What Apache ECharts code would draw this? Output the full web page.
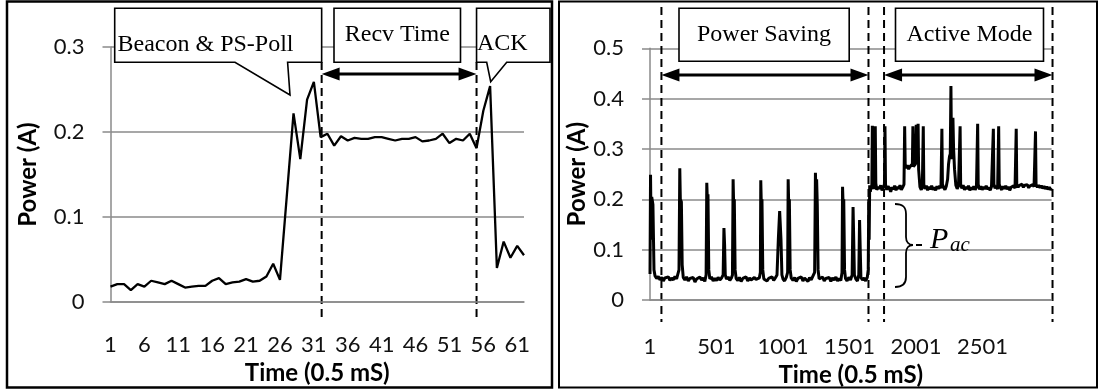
<!DOCTYPE html>
<html>
<head>
<meta charset="utf-8">
<script src="https://cdn.jsdelivr.net/npm/echarts/dist/echarts.min.js"></script>
<style>
  html, body { margin: 0; padding: 0; background: #fff; }
  #chart { width: 1100px; height: 392px; }
</style>
</head>
<body>
<div id="chart"></div>
<script>
//--------------------- Data ---------------------------//
// Left panel: one beacon / receive / ack cycle, 62 samples
const leftPower = [
  0.018, 0.021, 0.021, 0.014, 0.021, 0.018, 0.025, 0.023, 0.021, 0.025,
  0.021, 0.017, 0.018, 0.019, 0.019, 0.025, 0.028, 0.021, 0.023, 0.024,
  0.027, 0.024, 0.025, 0.030, 0.045, 0.026, 0.124, 0.222, 0.168, 0.238,
  0.259, 0.194, 0.198, 0.184, 0.195, 0.190, 0.193, 0.192, 0.192, 0.194,
  0.194, 0.192, 0.190, 0.192, 0.192, 0.194, 0.189, 0.190, 0.192, 0.198,
  0.187, 0.192, 0.190, 0.198, 0.181, 0.225, 0.254, 0.040, 0.071, 0.052,
  0.066, 0.055
];
const leftTime = leftPower.map((v, i) => String(i + 1));
const leftMarkIdx = [31.15, 54]; // dashed lines (category index)

// Right panel: power saving then active mode, sample index / current
const rightTime = [
  0, 4, 9, 13, 22, 30, 38, 50, 62, 75, 88, 100, 112, 125, 138, 150, 162, 175, 188, 200,
  212, 218, 224, 228, 236, 242, 250, 262, 275, 288, 300, 312, 325, 338, 350, 362, 375, 388, 400, 412,
  422, 427, 431, 436, 442, 450, 462, 475, 488, 500, 512, 525, 538, 550, 556, 561, 566, 575, 588, 600,
  612, 620, 625, 629, 634, 640, 648, 660, 672, 685, 698, 710, 722, 735, 748, 760, 772, 785, 798, 810,
  822, 830, 833, 837, 842, 848, 856, 868, 880, 892, 905, 918, 930, 942, 955, 965, 975, 985, 992, 1000,
  1012, 1025, 1035, 1039, 1043, 1048, 1054, 1062, 1075, 1088, 1100, 1112, 1125, 1138, 1150, 1162, 1175, 1188, 1200, 1212,
  1225, 1238, 1244, 1248, 1253, 1258, 1264, 1272, 1285, 1298, 1310, 1322, 1335, 1348, 1360, 1372, 1385, 1398, 1410, 1422,
  1435, 1444, 1448, 1452, 1457, 1463, 1470, 1482, 1495, 1508, 1520, 1527, 1532, 1537, 1548, 1560, 1570, 1576, 1581, 1586,
  1598, 1610, 1622, 1634, 1641, 1645, 1648, 1652, 1657, 1662, 1668, 1672, 1676, 1682, 1690, 1694, 1698, 1705, 1715, 1725,
  1735, 1745, 1755, 1763, 1767, 1771, 1780, 1790, 1800, 1810, 1820, 1830, 1840, 1850, 1860, 1870, 1880, 1890, 1900, 1910,
  1915, 1919, 1925, 1935, 1945, 1955, 1965, 1973, 1977, 1981, 1988, 1996, 2002, 2006, 2012, 2016, 2020, 2030, 2040, 2048,
  2055, 2059, 2068, 2078, 2088, 2098, 2108, 2118, 2128, 2138, 2148, 2158, 2168, 2178, 2188, 2195, 2199, 2208, 2218, 2228,
  2238, 2245, 2252, 2258, 2263, 2267, 2272, 2278, 2283, 2290, 2300, 2310, 2320, 2332, 2336, 2345, 2355, 2365, 2375, 2385,
  2395, 2405, 2415, 2425, 2435, 2445, 2455, 2464, 2468, 2478, 2488, 2498, 2508, 2518, 2528, 2538, 2548, 2558, 2568, 2582,
  2586, 2595, 2605, 2614, 2622, 2626, 2635, 2645, 2655, 2665, 2675, 2685, 2695, 2705, 2715, 2725, 2735, 2745, 2754, 2758,
  2768, 2778, 2788, 2798, 2808, 2818, 2828, 2838, 2848, 2858, 2868, 2878, 2888, 2899, 2903, 2913, 2923, 2933, 2943, 2953,
  2963, 2973, 2983, 2993, 3003, 3013, 3022
];
const rightPower = [
  0.052, 0.249, 0.120, 0.205, 0.190, 0.060, 0.048, 0.043, 0.047, 0.040, 0.045, 0.038, 0.044, 0.041, 0.046, 0.039, 0.044, 0.040, 0.047, 0.042,
  0.045, 0.060, 0.262, 0.200, 0.195, 0.070, 0.045, 0.040, 0.046, 0.038, 0.043, 0.040, 0.045, 0.036, 0.042, 0.039, 0.046, 0.040, 0.044, 0.037,
  0.050, 0.233, 0.200, 0.210, 0.060, 0.042, 0.046, 0.038, 0.043, 0.039, 0.045, 0.040, 0.044, 0.050, 0.143, 0.110, 0.050, 0.042, 0.046, 0.039,
  0.044, 0.050, 0.240, 0.190, 0.200, 0.060, 0.043, 0.039, 0.045, 0.037, 0.043, 0.040, 0.046, 0.038, 0.044, 0.040, 0.037, 0.045, 0.041, 0.038,
  0.044, 0.055, 0.238, 0.190, 0.200, 0.060, 0.042, 0.045, 0.038, 0.043, 0.040, 0.046, 0.039, 0.044, 0.050, 0.120, 0.177, 0.120, 0.050, 0.042,
  0.038, 0.045, 0.055, 0.240, 0.190, 0.200, 0.060, 0.044, 0.039, 0.045, 0.037, 0.043, 0.040, 0.046, 0.038, 0.044, 0.041, 0.037, 0.045, 0.040,
  0.043, 0.055, 0.253, 0.210, 0.240, 0.190, 0.060, 0.042, 0.039, 0.046, 0.038, 0.043, 0.040, 0.045, 0.037, 0.044, 0.040, 0.046, 0.038, 0.043,
  0.039, 0.055, 0.225, 0.190, 0.200, 0.060, 0.043, 0.038, 0.045, 0.040, 0.050, 0.185, 0.120, 0.050, 0.042, 0.038, 0.050, 0.159, 0.100, 0.045,
  0.040, 0.044, 0.038, 0.045, 0.060, 0.200, 0.120, 0.228, 0.215, 0.226, 0.220, 0.346, 0.230, 0.221, 0.228, 0.345, 0.232, 0.219, 0.225, 0.221,
  0.228, 0.218, 0.224, 0.230, 0.345, 0.230, 0.219, 0.226, 0.222, 0.215, 0.224, 0.220, 0.227, 0.218, 0.225, 0.221, 0.228, 0.219, 0.224, 0.230,
  0.345, 0.270, 0.262, 0.268, 0.260, 0.265, 0.262, 0.270, 0.345, 0.265, 0.262, 0.270, 0.348, 0.270, 0.280, 0.350, 0.260, 0.225, 0.219, 0.226,
  0.345, 0.230, 0.221, 0.227, 0.218, 0.225, 0.220, 0.227, 0.219, 0.224, 0.218, 0.226, 0.221, 0.227, 0.222, 0.340, 0.230, 0.224, 0.219, 0.226,
  0.240, 0.270, 0.285, 0.290, 0.425, 0.300, 0.280, 0.362, 0.300, 0.260, 0.228, 0.221, 0.227, 0.345, 0.230, 0.222, 0.228, 0.219, 0.225, 0.221,
  0.227, 0.218, 0.224, 0.220, 0.226, 0.219, 0.225, 0.350, 0.230, 0.220, 0.226, 0.219, 0.225, 0.221, 0.227, 0.220, 0.224, 0.218, 0.225, 0.340,
  0.230, 0.222, 0.227, 0.220, 0.345, 0.230, 0.223, 0.219, 0.226, 0.221, 0.227, 0.220, 0.225, 0.218, 0.224, 0.221, 0.227, 0.222, 0.340, 0.230,
  0.224, 0.228, 0.226, 0.230, 0.224, 0.228, 0.225, 0.229, 0.223, 0.227, 0.224, 0.229, 0.225, 0.335, 0.230, 0.224, 0.228, 0.223, 0.227, 0.222,
  0.226, 0.221, 0.225, 0.220, 0.224, 0.219, 0.222
];
const rightMarkTime = [86, 1643, 1760, 3027]; // dashed lines (sample index)

//--------------------- Styles ---------------------------//
const gridGray = '#8a8a8a';
const tickFont = { fontFamily: 'Lato', fontSize: 22, color: '#111' };
const nameFont = { fontFamily: 'Lato', fontSize: 24, fontWeight: 'bold', color: '#000' };
const boxFont = '24px "Liberation Serif"';

function valueYAxis(gridIndex, max, gap) {
  return {
    type: 'value', gridIndex: gridIndex, min: 0, max: max, interval: 0.1,
    name: 'Power (A)', nameLocation: 'middle', nameGap: gap, nameTextStyle: nameFont,
    axisLine: { show: true, lineStyle: { color: gridGray, width: 1.5 } },
    axisTick: { show: true, length: 8, lineStyle: { color: gridGray, width: 1.5 } },
    axisLabel: Object.assign({ margin: 26 }, tickFont),
    splitLine: { lineStyle: { color: gridGray, width: 1.5 } }
  };
}

const option = {
  animation: false,
  grid: [
    { left: 110.5, top: 47, width: 413.5, height: 255 },
    { left: 650, top: 48.3, width: 401.6, height: 259.2 }
  ],
  xAxis: [
    {
      type: 'category', gridIndex: 0, data: leftTime, boundaryGap: false,
      name: 'Time (0.5 mS)', nameLocation: 'middle', nameGap: 54, nameTextStyle: nameFont,
      axisLine: { lineStyle: { color: gridGray, width: 1.5 } },
      axisTick: { show: false },
      axisLabel: Object.assign({ interval: 4, margin: 32 }, tickFont),
      splitLine: { show: false }
    },
    {
      type: 'value', gridIndex: 1, min: 0, max: 3020, interval: 500,
      name: 'Time (0.5 mS)', nameLocation: 'middle', nameGap: 46, nameTextStyle: nameFont,
      axisLine: { lineStyle: { color: gridGray, width: 1.5 } },
      axisTick: { show: false },
      axisLabel: Object.assign({
        margin: 36,
        formatter: v => (v <= 2500 ? String(v + 1) : '')
      }, tickFont),
      splitLine: { show: false }
    }
  ],
  yAxis: [valueYAxis(0, 0.3, 70), valueYAxis(1, 0.5, 55)],
  series: [
    {
      type: 'line', xAxisIndex: 0, yAxisIndex: 0, data: leftPower,
      showSymbol: false, lineStyle: { color: '#000', width: 2.3 }
    },
    {
      type: 'line', xAxisIndex: 1, yAxisIndex: 1,
      data: rightTime.map((t, i) => [t, rightPower[i]]),
      showSymbol: false, lineStyle: { color: '#000', width: 3 }
    }
  ]
};

const chart = echarts.init(document.getElementById('chart'));
chart.setOption(option);

//--------------------- Annotations ---------------------------//
// pixel x of a (possibly fractional) category index on the left axis
function catPx(idx) {
  const i0 = Math.floor(idx);
  const a = chart.convertToPixel({ xAxisIndex: 0 }, i0);
  const b = chart.convertToPixel({ xAxisIndex: 0 }, i0 + 1);
  return a + (b - a) * (idx - i0);
}

function dashed(x, y1, y2) {
  return { type: 'line', shape: { x1: x, y1: y1, x2: x, y2: y2 },
    style: { stroke: '#000', lineWidth: 2, lineDash: [8, 5] } };
}

function doubleArrow(x1, x2, y) {
  const h = 18, w = 6.5;
  return [
    { type: 'line', shape: { x1: x1 + h - 2, y1: y, x2: x2 - h + 2, y2: y },
      style: { stroke: '#000', lineWidth: 2.8 } },
    { type: 'polygon', shape: { points: [[x1, y], [x1 + h, y - w], [x1 + h, y + w]] },
      style: { fill: '#000' } },
    { type: 'polygon', shape: { points: [[x2, y], [x2 - h, y - w], [x2 - h, y + w]] },
      style: { fill: '#000' } }
  ];
}

function shape(points) {
  return { type: 'polygon', shape: { points: points },
    style: { fill: '#fff', stroke: '#000', lineWidth: 1.6 } };
}

function label(text, x, y, align) {
  return { type: 'text', x: x, y: y,
    style: { text: text, font: boxFont, fill: '#000', align: align, verticalAlign: 'middle' } };
}

function curve(x1, y1, c1x, c1y, c2x, c2y, x2, y2) {
  return { type: 'bezierCurve',
    shape: { x1: x1, y1: y1, cpx1: c1x, cpy1: c1y, cpx2: c2x, cpy2: c2y, x2: x2, y2: y2 },
    style: { fill: 'none', stroke: '#000', lineWidth: 1.8 } };
}

function seg(x1, y1, x2, y2, w) {
  return { type: 'line', shape: { x1: x1, y1: y1, x2: x2, y2: y2 },
    style: { stroke: '#000', lineWidth: w } };
}

const lx = leftMarkIdx.map(catPx);
const rx = rightMarkTime.map(t => chart.convertToPixel({ xAxisIndex: 1 }, t));

const elements = [
  // panel frames
  { type: 'rect', shape: { x: 7, y: 1.5, width: 545, height: 386 },
    style: { fill: 'none', stroke: '#000', lineWidth: 2.5 } },
  { type: 'rect', shape: { x: 559, y: 1.5, width: 538, height: 386 },
    style: { fill: 'none', stroke: '#000', lineWidth: 2 } },

  // left panel
  dashed(lx[0], 62, 322),
  dashed(lx[1], 62, 322),
  ...doubleArrow(lx[0], lx[1], 74),
  shape([[114.7, 8.3], [lx[0], 8.3], [lx[0], 62.3], [287.6, 62.3], [290, 95], [235, 62.3], [114.7, 62.3]]),
  label('Beacon & PS-Poll', 117.5, 44.7, 'left'),
  shape([[334, 8.3], [460.5, 8.3], [460.5, 62.3], [334, 62.3]]),
  label('Recv Time', 397.3, 34.3, 'center'),
  shape([[lx[1], 8.3], [550, 8.3], [550, 62.3], [506.7, 62.3], [490.7, 81.7], [486.7, 62.3], [lx[1], 62.3]]),
  label('ACK', 477, 43.3, 'left'),

  // right panel
  ...rx.map(x => dashed(x, 7, 322)),
  ...doubleArrow(rx[0], rx[1], 75),
  ...doubleArrow(rx[2], rx[3], 75),
  shape([[679, 8.3], [849.2, 8.3], [849.2, 61.3], [679, 61.3]]),
  label('Power Saving', 764, 34.7, 'center'),
  shape([[895.5, 8.3], [1043.5, 8.3], [1043.5, 61.3], [895.5, 61.3]]),
  label('Active Mode', 969.5, 34.7, 'center'),

  // P_ac brace
  curve(895, 204, 903, 204, 906, 207, 906, 214),
  seg(906, 214, 906, 237, 1.8),
  curve(906, 237, 906, 242, 909, 245, 913, 245),
  curve(913, 245, 909, 245, 906, 248, 906, 253),
  seg(906, 253, 906, 277, 1.8),
  curve(906, 277, 906, 283, 903, 287, 895, 287),
  seg(916, 245, 922, 245, 2),
  { type: 'text', x: 930, y: 240,
    style: { text: 'P', font: 'italic 30px "Liberation Serif"', fill: '#000', verticalAlign: 'middle' } },
  { type: 'text', x: 950, y: 245.7,
    style: { text: 'ac', font: 'italic 21px "Liberation Serif"', fill: '#000', verticalAlign: 'middle' } }
];

chart.setOption({ graphic: { elements: elements } });
</script>
</body>
</html>
